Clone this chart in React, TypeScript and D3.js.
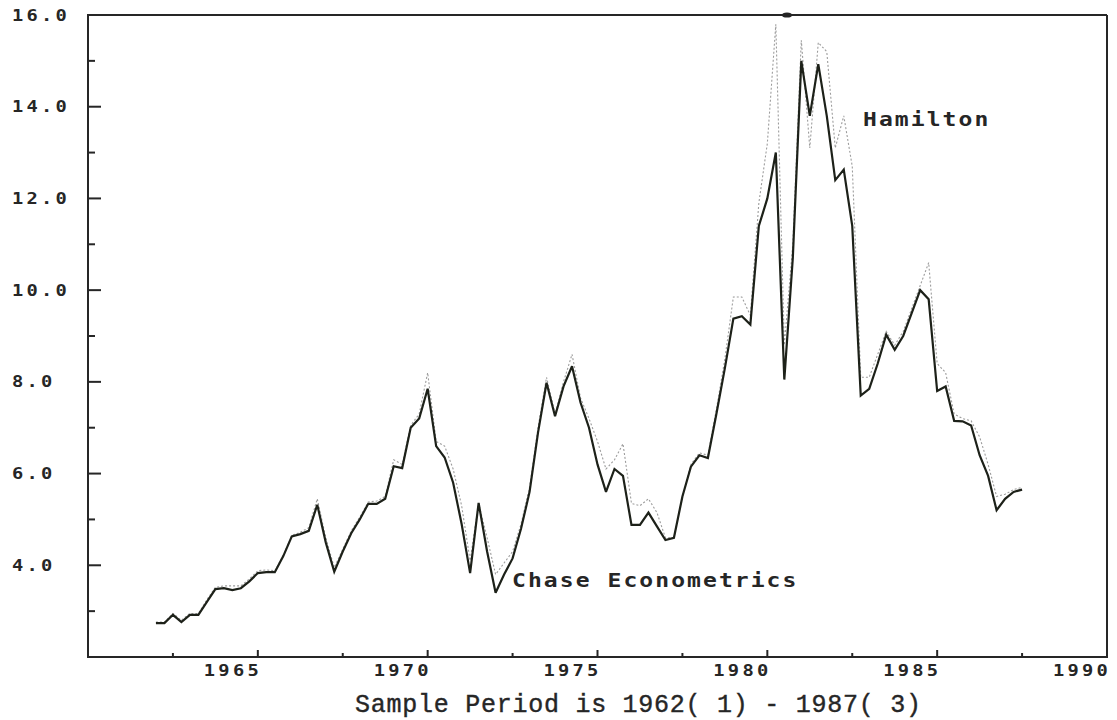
import React from "react";
import * as d3 from "d3";

// Quarterly series, 1962Q1 .. 1987Q3 (103 observations)
const startYear = 1962;

const chaseValues = [
  2.74, 2.74, 2.92, 2.76, 2.92, 2.92, 3.2, 3.48, 3.5, 3.46,
  3.5, 3.65, 3.83, 3.85, 3.85, 4.2, 4.63, 4.68, 4.75, 5.32,
  4.5, 3.86, 4.3, 4.7, 5.0, 5.34, 5.34, 5.45, 6.16, 6.12,
  7.0, 7.2, 7.85, 6.6, 6.35, 5.8, 4.9, 3.83, 5.36, 4.3,
  3.4, 3.8, 4.15, 4.8, 5.6, 6.9, 7.98, 7.25, 7.9, 8.34,
  7.55, 7.0, 6.2, 5.6, 6.1, 5.95, 4.88, 4.88, 5.15, 4.85,
  4.55, 4.6, 5.5, 6.15, 6.4, 6.34, 7.3, 8.3, 9.38, 9.43,
  9.25, 11.4, 12.0, 13.0, 8.05, 10.7, 15.0, 13.8, 14.93, 13.8,
  12.4, 12.63, 11.4, 7.7, 7.85, 8.4, 9.03, 8.7, 9.0, 9.5,
  10.0, 9.8, 7.8, 7.9, 7.15, 7.14, 7.05, 6.4, 5.95, 5.2,
  5.45, 5.6, 5.65,
];

const hamiltonValues = [
  2.76, 2.76, 2.95, 2.8, 2.95, 2.95, 3.25, 3.52, 3.55, 3.55,
  3.55, 3.7, 3.88, 3.9, 3.88, 4.22, 4.65, 4.72, 4.82, 5.45,
  4.6, 3.95, 4.35, 4.75, 5.05, 5.38, 5.4, 5.5, 6.3, 6.2,
  7.05, 7.3, 8.2, 6.7, 6.6, 6.1, 5.3, 4.1, 5.35, 4.6,
  3.8, 4.05, 4.3, 4.9, 5.7, 7.0, 8.1, 7.3, 8.0, 8.6,
  7.65, 7.2, 6.7, 6.1, 6.3, 6.65, 5.35, 5.3, 5.45, 5.15,
  4.6, 4.6, 5.5, 6.2, 6.45, 6.4, 7.4, 8.5, 9.85, 9.85,
  9.45, 11.9, 13.2, 15.8, 8.8, 11.0, 15.45, 13.1, 15.4, 15.2,
  13.1, 13.8, 12.7, 8.1, 8.1, 8.6, 9.1, 8.8, 9.1, 9.6,
  10.1, 10.6, 8.4, 8.2, 7.3, 7.2, 7.15, 6.8, 6.2, 5.5,
  5.55, 5.65, 5.7,
];

const xTickYears = [1965, 1970, 1975, 1980, 1985, 1990];
const xMinorYears = [1962.5, 1967.5, 1972.5, 1977.5, 1982.5, 1987.5];
const yTickValues = [4, 6, 8, 10, 12, 14, 16];
const yMinorValues = [3, 5, 7, 9, 11, 13, 15];

const seriesLabels = ["Chase Econometrics", "Hamilton"];
const caption = "Sample Period is 1962( 1) - 1987( 3)";

const W = 1117;
const H = 720;
const ink = "#262626";
const mono = "'DejaVu Sans Mono', 'Liberation Mono', monospace";

type Pt = { t: number; v: number };

const toPoints = (vals: number[]): Pt[] =>
  vals.map((v, i) => ({ t: startYear + i / 4, v }));

// wide, letter-spaced bold terminal-style text
function WideText(props: {
  x: number;
  y: number;
  size: number;
  sx: number;
  ls: number;
  children: string;
}) {
  const { x, y, size, sx, ls, children } = props;
  return (
    <text
      transform={`translate(${x},${y}) scale(${sx},1)`}
      fontFamily={mono}
      fontWeight="bold"
      fontSize={size}
      letterSpacing={ls}
      fill={ink}
      style={{ whiteSpace: "pre" }}
    >
      {children}
    </text>
  );
}

export default function App() {
  const x = d3.scaleLinear().domain([1960, 1990]).range([88, 1107]);
  const y = d3.scaleLinear().domain([2, 16]).range([657, 15]);

  const line = d3
    .line<Pt>()
    .x((d) => x(d.t))
    .y((d) => y(d.v));

  const chase = toPoints(chaseValues);
  const hamilton = toPoints(hamiltonValues);

  const [x0, x1] = x.range();
  const [yb, yt] = y.range();

  return (
    <svg
      width={W}
      height={H}
      viewBox={`0 0 ${W} ${H}`}
      style={{ position: "fixed", left: 0, top: 0, background: "#fff" }}
    >
      <rect x={0} y={0} width={W} height={H} fill="#fff" />

      {/* series */}
      <path
        d={line(hamilton) ?? ""}
        fill="none"
        stroke="#9c9c9c"
        strokeWidth={1.1}
        strokeDasharray="2 2"
      />
      <path
        d={line(chase) ?? ""}
        fill="none"
        stroke="#1d2119"
        strokeWidth={2.2}
        strokeLinejoin="miter"
        strokeMiterlimit={3}
      />

      {/* frame */}
      <g stroke={ink} strokeWidth={2} fill="none">
        <line x1={x0} y1={yt} x2={x1} y2={yt} />
        <line x1={x1} y1={yt} x2={x1} y2={yb} />
        <line x1={x0} y1={yb} x2={x1 + 1} y2={yb} />
        <line x1={x0} y1={yt - 1} x2={x0} y2={yb + 1} />
      </g>
      <ellipse cx={787} cy={yt} rx={5} ry={2.6} fill={ink} />

      {/* y axis ticks and labels */}
      <g stroke={ink} strokeWidth={2}>
        {yTickValues.map((v) => (
          <line key={`ym${v}`} x1={x0} x2={x0 + 13} y1={y(v)} y2={y(v)} />
        ))}
        {yMinorValues.map((v) => (
          <line key={`yn${v}`} x1={x0} x2={x0 + 7} y1={y(v)} y2={y(v)} />
        ))}
      </g>
      {yTickValues.map((v) => (
        <WideText key={`yl${v}`} x={12} y={y(v) + 5.5} size={15} sx={1.25} ls={2.6}>
          {v.toFixed(1)}
        </WideText>
      ))}

      {/* x axis ticks and labels */}
      <g stroke={ink} strokeWidth={2}>
        {xTickYears.map((t) => (
          <line key={`xm${t}`} x1={x(t)} x2={x(t)} y1={yb} y2={yb - 7} />
        ))}
        {xMinorYears.map((t) => (
          <line key={`xn${t}`} x1={x(t)} x2={x(t)} y1={yb} y2={yb - 4} />
        ))}
      </g>
      {xTickYears.map((t) => (
        <WideText key={`xl${t}`} x={x(t) - 54} y={676} size={15} sx={1.25} ls={2.6}>
          {String(t)}
        </WideText>
      ))}

      {/* series labels */}
      <WideText x={512} y={587} size={20} sx={1.15} ls={1.8}>
        {seriesLabels[0]}
      </WideText>
      <WideText x={863} y={126} size={20} sx={1.15} ls={1.8}>
        {seriesLabels[1]}
      </WideText>

      {/* caption */}
      <text
        x={355}
        y={712}
        fontFamily="'Liberation Mono', 'DejaVu Sans Mono', monospace"
        fontSize={25}
        fill={ink}
        stroke={ink}
        strokeWidth={0.4}
        textLength={566}
        style={{ whiteSpace: "pre" }}
      >
        {caption}
      </text>
    </svg>
  );
}
